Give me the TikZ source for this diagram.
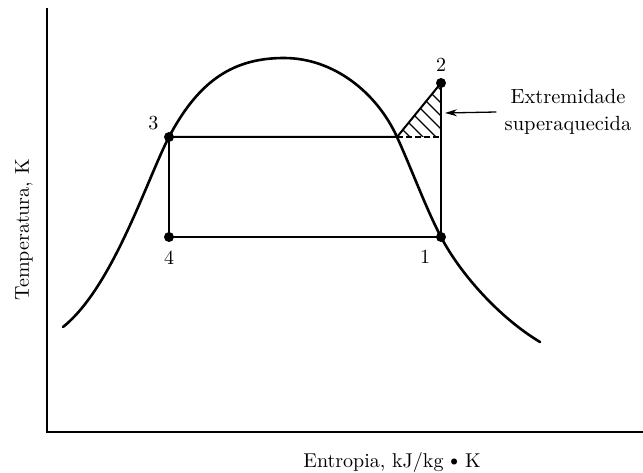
\documentclass[tikz,border=0pt]{standalone}
\usepackage{tikz}
\usetikzlibrary{arrows.meta,positioning}

\begin{document}
\begin{tikzpicture}[x=1pt,y=1pt,
  axis/.style={line width=1.4pt},
  dome/.style={line width=2.6pt,line cap=round},
  cyc/.style={line width=2pt},
  dot/.style={circle,fill=black,inner sep=0pt,minimum size=10pt},
  lbl/.style={scale=2,transform shape,inner sep=1pt},
  ttl/.style={scale=2,transform shape},
  note/.style={scale=2.05,transform shape,font=\fontsize{10}{13.2}\selectfont,
    align=center,inner sep=0pt},
  hatch/.style={line width=1.1pt},
  arr/.style={-{Stealth[length=12pt,width=7pt]},line width=1.3pt}]
  \useasboundingbox (0,0) rectangle (643,472);
  % axes
  \coordinate (origin) at (47,40);
  \coordinate (ytop) at (47,464);
  \coordinate (xend) at (643,40);
  \draw[axis] (ytop) -- (origin) -- (xend);
  \node[ttl,rotate=90] (ylab) at (24,242) {Temperatura, K};
  \node[ttl] (xlab) at (392,10)
    {Entropia, kJ/kg $\vcenter{\hbox{$\scriptstyle\bullet$}}$ K};
  % saturation dome
  \draw[dome] (63,145) .. controls (113,185) and (147,293) .. (169,335)
    .. controls (199,392) and (234,414) .. (284,414)
    .. controls (334,414) and (377,379) .. (397,335)
    .. controls (412,302) and (426,263.5) .. (441,235)
    .. controls (461,197) and (500,154) .. (540,130);
  % cycle states
  \node[dot] (p1) at (441,235) {};
  \node[dot] (p2) at (441,389) {};
  \node[dot] (p3) at (169,335) {};
  \node[dot] (p4) at (169,235) {};
  \node[lbl,below=6pt of p1,xshift=-8pt] (l1) {1};
  \node[lbl,above=4pt of p2] (l2) {2};
  \node[lbl,left=3pt of p3,yshift=7pt] (l3) {3};
  \node[lbl,below=6pt of p4] (l4) {4};
  \coordinate (sat) at (397,335);
  \coordinate (base) at (441,335);
  \draw[cyc] (p3.center) -- (p4.center) -- (p1.center) -- (p2.center);
  \draw[cyc] (p3.center) -- (sat) -- (p2.center);
  \draw[cyc,dash pattern=on 6pt off 3pt] (sat) -- (base);
  \begin{scope}
    \clip (sat) -- (p2.center) -- (base) -- cycle;
    \foreach \s in {745,758,...,823}
      \draw[hatch] (\s-400,400) -- (\s-320,320);
  \end{scope}
  % superheat annotation
  \node[note] (sup) at (568,360) {Extremidade\\superaquecida};
  \coordinate (tip) at (445,359);
  \draw[arr] ([xshift=-8pt]sup.west) -- (tip);
\end{tikzpicture}
\end{document}
